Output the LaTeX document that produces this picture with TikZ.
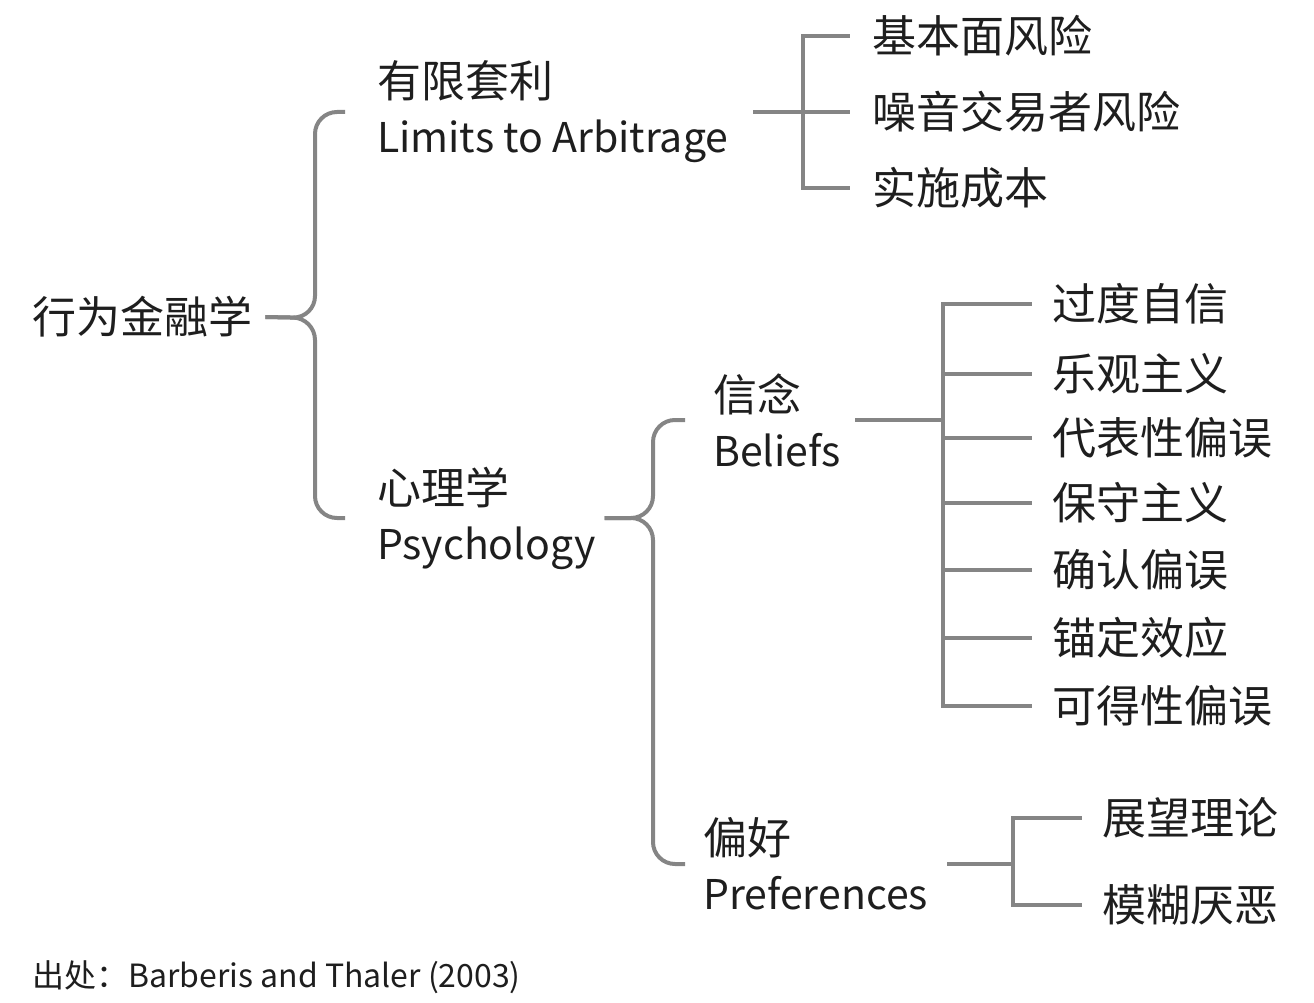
\documentclass[tikz,border=0pt]{standalone}
\usepackage{fontspec}
\usepackage{xcolor}
\usetikzlibrary{positioning}
\newfontfamily\cjk{Noto Sans CJK SC}
\newcommand{\latn}[1]{{\fontsize{41}{55}\selectfont #1}}
\definecolor{braceg}{HTML}{858585}
\definecolor{ink}{HTML}{1E1E1E}

\begin{document}
\begin{tikzpicture}[
    x=1pt,y=-1pt,
    lbl/.style={anchor=west,inner sep=0pt,align=left,text=ink,
                font=\cjk\fontsize{44}{55}\selectfont},
    leaf/.style={lbl},
    note/.style={anchor=west,inner sep=0pt,text=ink,font=\cjk\fontsize{32}{36}\selectfont},
    link/.style={draw=braceg,line width=4pt},
    brace/.style={link,rounded corners=22pt}
  ]
    \useasboundingbox (0,0) rectangle (1314,1003);

    \node[lbl] (root) at (32,317)  {行为金融学};
    \node[lbl] (lim)  at (377,112) {有限套利\\\latn{Limits to Arbitrage}};
    \node[lbl] (psy)  at (377,518) {心理学\\\latn{Psychology}};
    \node[lbl] (bel)  at (713,420) {信念\\\latn{Beliefs}};
    \node[lbl] (pref) at (703,864) {偏好\\\latn{Preferences}};

    % limits to arbitrage
    \node[leaf] (fund)  at (872,36)  {基本面风险};
    \node[leaf] (noise) at (872,112) {噪音交易者风险};
    \node[leaf] (cost)  at (872,188) {实施成本};

    % beliefs
    \node[leaf] (over) at (1052,304) {过度自信};
    \node[leaf] (opti) at (1052,374) {乐观主义};
    \node[leaf] (repr) at (1052,438) {代表性偏误};
    \node[leaf] (cons) at (1052,503) {保守主义};
    \node[leaf] (conf) at (1052,570) {确认偏误};
    \node[leaf] (anch) at (1052,638) {锚定效应};
    \node[leaf] (avai) at (1052,706) {可得性偏误};

    % preferences
    \node[leaf] (pros) at (1102,818) {展望理论};
    \node[leaf] (ambi) at (1102,905) {模糊厌恶};

    \node[note] (src) at (32,977) {出处：Barberis and Thaler (2003)};

    \coordinate (brA) at (315,318);
    \coordinate (brB) at (653,518);
    \coordinate (jA)  at (803,112);
    \coordinate (jB)  at (943,420);
    \coordinate (jC)  at (1013,864);

    \draw[brace] ([xshift=-32]lim.west) -| (brA) -- ([xshift=13]root.east);
    \draw[brace] ([xshift=-32]psy.west) -| (brA) -- ([xshift=13]root.east);
    \draw[brace] ([xshift=-28]bel.west) -| (brB) -- ([xshift=9]psy.east);
    \draw[brace] ([xshift=-18]pref.west) -| (brB) -- ([xshift=9]psy.east);

    \draw[link] ([xshift=25]lim.east) -- (jA);
    \foreach \n in {fund,noise,cost}
      \draw[link] (jA) |- ([xshift=-22]\n.west);

    \draw[link] ([xshift=14]bel.east) -- (jB);
    \foreach \n in {over,opti,repr,cons,conf,anch,avai}
      \draw[link] (jB) |- ([xshift=-20]\n.west);

    \draw[link] ([xshift=19]pref.east) -- (jC);
    \foreach \n in {pros,ambi}
      \draw[link] (jC) |- ([xshift=-20]\n.west);
  \end{tikzpicture}
\end{document}
